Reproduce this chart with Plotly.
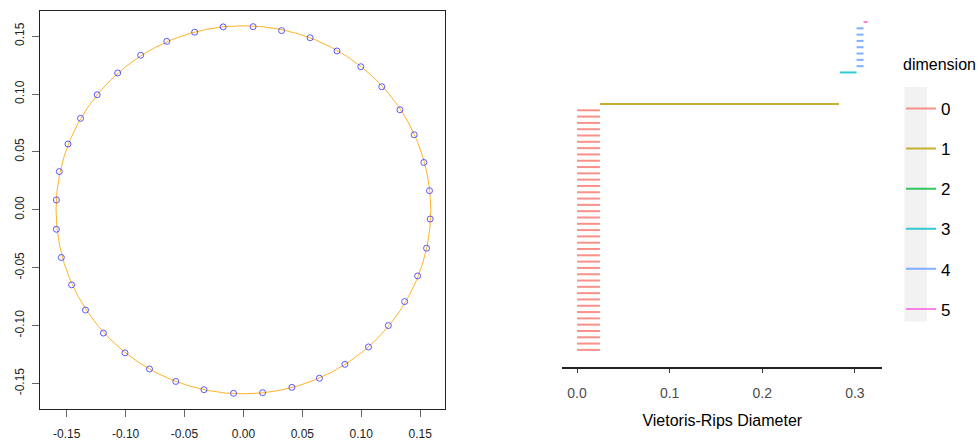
import plotly.graph_objects as go

# ---------------- data: left panel (point cloud on a circle) ----------------
point_x = [0.0082, 0.0324, 0.0566, 0.0794, 0.0996, 0.1174, 0.1328, 0.1449, 0.1531, 0.1579,
           0.1585, 0.1554, 0.1478, 0.1368, 0.1230, 0.1061, 0.0861, 0.0645, 0.0411, 0.0163,
           -0.0084, -0.0335, -0.0574, -0.0797, -0.1005, -0.1188, -0.1340, -0.1458, -0.1545, -0.1587,
           -0.1587, -0.1562, -0.1489, -0.1382, -0.1241, -0.1067, -0.0872, -0.0650, -0.0414, -0.0172]
point_y = [0.1582, 0.1548, 0.1486, 0.1372, 0.1236, 0.1063, 0.0864, 0.0648, 0.0409, 0.0165,
           -0.0080, -0.0332, -0.0571, -0.0793, -0.1000, -0.1185, -0.1335, -0.1455, -0.1534, -0.1580,
           -0.1585, -0.1554, -0.1483, -0.1375, -0.1236, -0.1065, -0.0866, -0.0648, -0.0412, -0.0168,
           0.0085, 0.0330, 0.0568, 0.0790, 0.0994, 0.1182, 0.1335, 0.1455, 0.1534, 0.1580]
circle_radius = 0.159
left_tick_vals = [-0.15, -0.10, -0.05, 0.00, 0.05, 0.10, 0.15]
left_tick_text = ["-0.15", "-0.10", "-0.05", "0.00", "0.05", "0.10", "0.15"]

# ---------------- data: right panel (persistence barcode) ----------------
bar_dimension = [
    0, 0, 0, 0, 0, 0, 0, 0, 0, 0, 0, 0, 0, 0, 0, 0, 0, 0, 0, 0,
    0, 0, 0, 0, 0, 0, 0, 0, 0, 0, 0, 0, 0, 0, 0, 0, 0, 0, 0,
    1,
    2, 2, 2, 2,
    3,
    4, 4, 4, 4, 4, 4, 4,
    5]
bar_birth = [
    0.0, 0.0, 0.0, 0.0, 0.0, 0.0, 0.0, 0.0, 0.0, 0.0, 0.0, 0.0, 0.0, 0.0, 0.0, 0.0, 0.0, 0.0, 0.0, 0.0,
    0.0, 0.0, 0.0, 0.0, 0.0, 0.0, 0.0, 0.0, 0.0, 0.0, 0.0, 0.0, 0.0, 0.0, 0.0, 0.0, 0.0, 0.0, 0.0,
    0.0247,
    0.2830, 0.2830, 0.2830, 0.2830,
    0.2836,
    0.3018, 0.3018, 0.3018, 0.3018, 0.3018, 0.3018, 0.3018,
    0.3093]
bar_death = [
    0.0247, 0.0247, 0.0247, 0.0247, 0.0247, 0.0247, 0.0247, 0.0247, 0.0247, 0.0247,
    0.0247, 0.0247, 0.0247, 0.0247, 0.0247, 0.0247, 0.0247, 0.0247, 0.0247, 0.0247,
    0.0247, 0.0247, 0.0247, 0.0247, 0.0247, 0.0247, 0.0247, 0.0247, 0.0247, 0.0247,
    0.0247, 0.0247, 0.0247, 0.0247, 0.0247, 0.0247, 0.0247, 0.0247, 0.0247,
    0.2828,
    0.2830, 0.2830, 0.2830, 0.2830,
    0.3018,
    0.3093, 0.3093, 0.3093, 0.3093, 0.3093, 0.3093, 0.3093,
    0.3137]
dimensions = [0, 1, 2, 3, 4, 5]
dimension_colors = ["#F8766D", "#B79F00", "#00BA38", "#00BFC4", "#619CFF", "#F564E3"]
right_tick_vals = [0.0, 0.1, 0.2, 0.3]
right_tick_text = ["0.0", "0.1", "0.2", "0.3"]

# ---------------- figure ----------------
W, H = 978, 441
NARROW = "Liberation Sans Narrow, Arial Narrow, Liberation Sans, Arial, sans-serif"
SANS = "Liberation Sans, Arial, sans-serif"

fig = go.Figure()

# left panel: points
fig.add_trace(go.Scatter(
    x=point_x, y=point_y, mode="markers",
    marker=dict(symbol="circle-open", size=6, color="rgba(50,50,255,0.8)",
                line=dict(width=1, color="rgba(50,50,255,0.8)")),
    xaxis="x", yaxis="y", showlegend=False, hoverinfo="skip"))

fig.add_shape(type="circle", xref="x", yref="y",
              x0=-circle_radius, y0=-circle_radius, x1=circle_radius, y1=circle_radius,
              line=dict(color="rgba(255,165,0,0.85)", width=1), layer="below")

# right panel: barcode, one trace per dimension
for d, col in zip(dimensions, dimension_colors):
    xs, ys = [], []
    for idx, (dim, b, e) in enumerate(zip(bar_dimension, bar_birth, bar_death)):
        if dim == d:
            xs += [b, e, None]
            ys += [idx + 1, idx + 1, None]
    fig.add_trace(go.Scatter(
        x=xs, y=ys, mode="lines", name=str(d), legendgroup=str(d),
        line=dict(color=col, width=2), opacity=0.8,
        xaxis="x2", yaxis="y2", hoverinfo="skip"))

# gray legend key background
fig.add_shape(type="rect", xref="paper", yref="paper",
              x0=909 / W, x1=931.7 / W, y0=1 - 326 / H, y1=1 - 88.3 / H,
              fillcolor="#F2F2F2", line=dict(width=0), layer="below")

fig.update_layout(
    width=W, height=H,
    margin=dict(l=0, r=0, t=0, b=0),
    paper_bgcolor="white", plot_bgcolor="white",
    xaxis=dict(domain=[40.7 / W, 447.7 / W], range=[-0.1722, 0.1714],
               showgrid=False, zeroline=False, showline=True, mirror=True,
               linecolor="#222", linewidth=1,
               ticks="outside", ticklen=7, tickcolor="#666", tickwidth=1,
               tickvals=left_tick_vals, ticktext=left_tick_text, ticklabelstandoff=7,
               tickfont=dict(family=SANS, size=12, color="#222")),
    yaxis=dict(domain=[1 - 414.3 / H, 1 - 11.3 / H], range=[-0.1718, 0.1716],
               showgrid=False, zeroline=False, showline=True, mirror=True,
               linecolor="#222", linewidth=1,
               ticks="outside", ticklen=7, tickcolor="#666", tickwidth=1,
               tickvals=left_tick_vals, ticktext=left_tick_text, tickangle=-90,
               ticklabelstandoff=4,
               tickfont=dict(family=SANS, size=12, color="#222")),
    xaxis2=dict(domain=[565.3 / W, 886.7 / W], range=[-0.0158, 0.3294], anchor="y2",
                showgrid=False, zeroline=False, showline=True, linecolor="#222", linewidth=2,
                ticks="outside", ticklen=4, tickcolor="#333", tickwidth=1,
                tickvals=right_tick_vals, ticktext=right_tick_text, ticklabelstandoff=8,
                tickfont=dict(family=NARROW, size=14, color="#4D4D4D"),
                title=dict(text="Vietoris-Rips Diameter", standoff=15,
                           font=dict(family=NARROW, size=16, color="black"))),
    yaxis2=dict(domain=[1 - 372.3 / H, 1 - 5.7 / H], range=[-1.75, 55.6], anchor="x2",
                visible=False),
    legend=dict(x=906 / W, y=1 - 50 / H, xanchor="left", yanchor="top",
                bgcolor="rgba(0,0,0,0)", borderwidth=0,
                title=dict(text="dimension<br> ", font=dict(family=NARROW, size=16, color="black")),
                font=dict(family=NARROW, size=17, color="black"),
                tracegroupgap=15, traceorder="grouped"),
)

fig.write_html("out.html")
